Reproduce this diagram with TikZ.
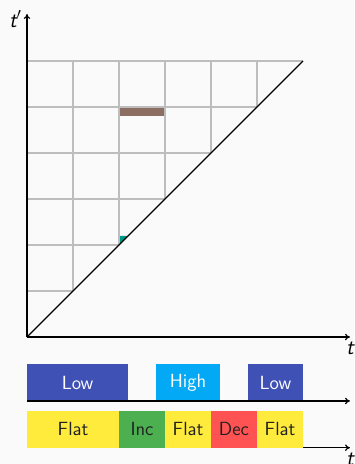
\documentclass[tikz,border=0pt]{standalone}
\usetikzlibrary{arrows.meta}
\definecolor{bgc}{HTML}{FAFAFA}
\definecolor{gridc}{HTML}{BDBDBD}
\definecolor{lowc}{HTML}{3F51B5}
\definecolor{highc}{HTML}{03A9F4}
\definecolor{flatc}{HTML}{FFEB3B}
\definecolor{incc}{HTML}{4CAF50}
\definecolor{decc}{HTML}{FF5252}
\definecolor{brownc}{HTML}{8D6E63}
\definecolor{tealc}{HTML}{009688}
\definecolor{txtc}{HTML}{212121}
\tikzset{
  axis/.style={line width=0.7pt, -{To[length=3pt,width=4pt]}},
  gridline/.style={gridc, line width=0.75pt},
  seg/.style={inner sep=0pt, outer sep=0pt, font=\sffamily\fontsize{11.8}{13}\selectfont, text=txtc},
  lbl/.style={font=\sffamily\itshape\fontsize{13.5}{15}\selectfont, inner sep=0pt}
}
\begin{document}
\begin{tikzpicture}[x=1cm,y=1cm]
\useasboundingbox[fill=bgc] (-0.587,-2.761) rectangle (7.109,7.326);
% highlights
\fill[brownc] (2,4.8) rectangle (3,5);
\fill[tealc] (2,2) -- (2,2.2) -- (2.2,2.2) -- cycle;
% grid
\foreach \k in {1,...,5} {
  \draw[gridline] (\k,\k) -- (\k,6);
  \draw[gridline] (0,\k) -- (\k,\k);
}
\draw[gridline] (0,6) -- (6,6);
% axes
\coordinate (o) at (0,0);
\coordinate (xe) at (7.02,0);
\coordinate (ye) at (0,7.02);
\coordinate (d) at (6,6);
\draw[line width=0.7pt] (o) -- (d);
\draw[axis] (o) -- (xe);
\draw[axis] (o) -- (ye);
\node[lbl, anchor=north] (tl) at ([yshift=-3pt]xe) {t};
\node[lbl, anchor=east] (tpl) at ([xshift=-3pt,yshift=-3pt]ye) {t$'$};
% top row
\node[seg, fill=lowc, text=white, minimum width=2.2cm, minimum height=0.8cm, anchor=south west] (low1) at (0,-1.391) {Low};
\node[seg, fill=highc, text=white, minimum width=1.4cm, minimum height=0.8cm, anchor=south west] (high) at (2.8,-1.391) {High};
\node[seg, fill=lowc, text=white, minimum width=1.2cm, minimum height=0.8cm, anchor=south west] (low2) at (4.8,-1.391) {Low};
\coordinate (a1s) at (0,-1.391);
\coordinate (a1e) at (7.02,-1.391);
\draw[axis] (a1s) -- (a1e);
% bottom row
\coordinate (a2s) at (0,-2.407);
\coordinate (a2e) at (7.02,-2.407);
\draw[axis] (a2s) -- (a2e);
\node[lbl, anchor=north] (tl2) at ([yshift=-3pt]a2e) {t};
\node[seg, fill=flatc, minimum width=2cm, minimum height=0.8cm, anchor=south west] (f1) at (0,-2.407) {Flat};
\node[seg, fill=incc, minimum width=1cm, minimum height=0.8cm, anchor=south west] (inc) at (2,-2.407) {Inc};
\node[seg, fill=flatc, minimum width=1cm, minimum height=0.8cm, anchor=south west] (f2) at (3,-2.407) {Flat};
\node[seg, fill=decc, minimum width=1cm, minimum height=0.8cm, anchor=south west] (dec) at (4,-2.407) {Dec};
\node[seg, fill=flatc, minimum width=1cm, minimum height=0.8cm, anchor=south west] (f3) at (5,-2.407) {Flat};
\end{tikzpicture}
\end{document}
